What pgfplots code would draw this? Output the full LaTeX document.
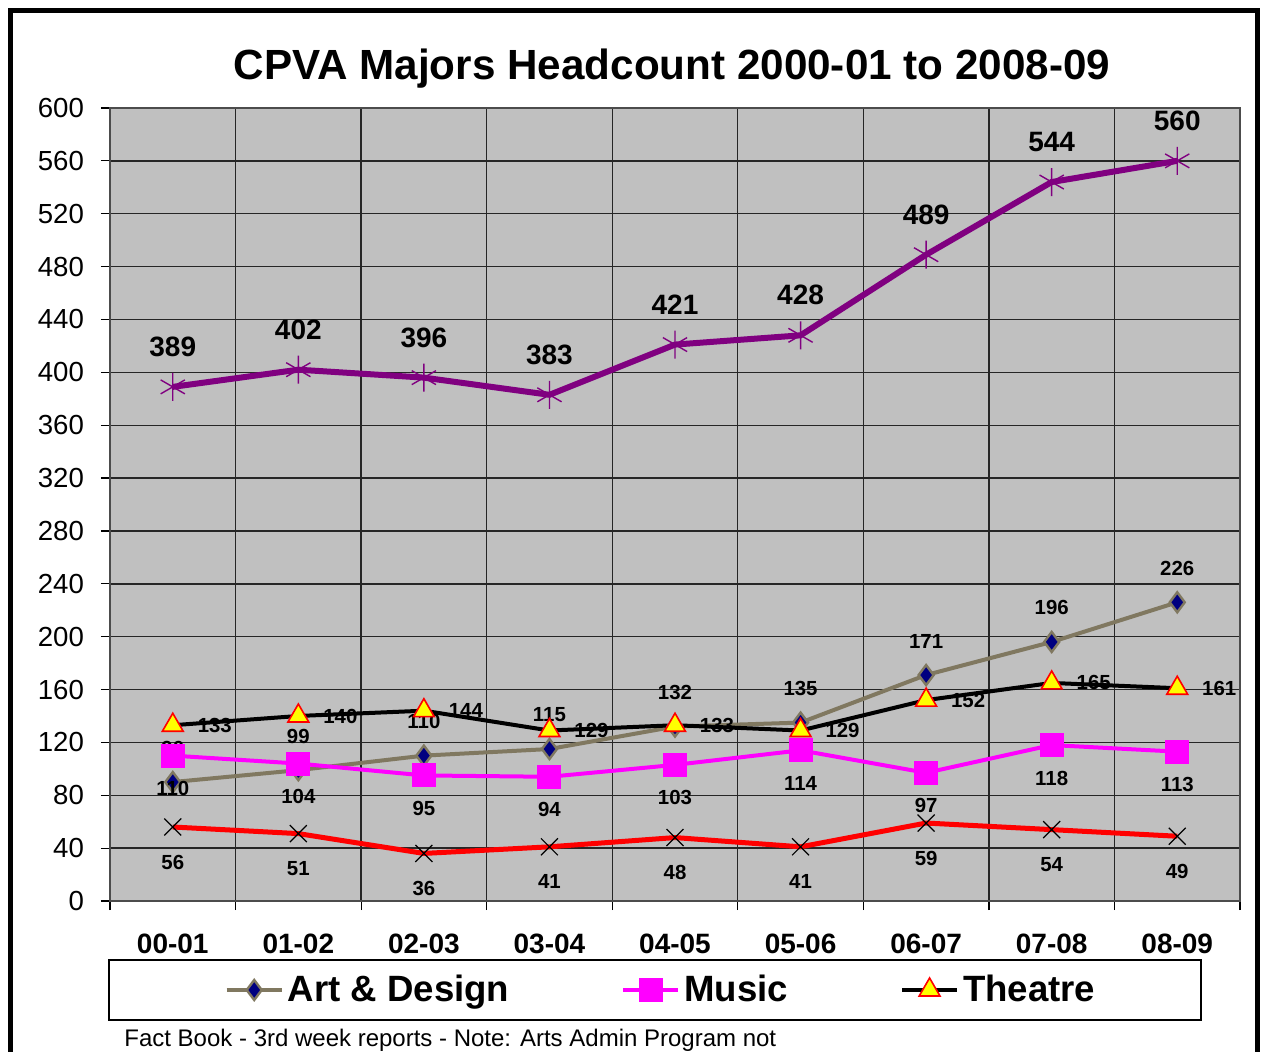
\documentclass[border=0pt]{standalone}
\usepackage{fontspec}
\setmainfont{Liberation Sans}
\usepackage{pgfplots}
\pgfplotsset{compat=1.18}
\definecolor{purp}{RGB}{128,0,128}
\definecolor{artline}{RGB}{128,120,96}
\definecolor{navyc}{RGB}{0,0,128}
\definecolor{plotbg}{RGB}{192,192,192}
\definecolor{mag}{RGB}{255,0,255}
\definecolor{yel}{RGB}{255,255,0}
\definecolor{rd}{RGB}{255,0,0}
\pgfplotsset{/pgf/number format/assume math mode=true}
\begin{document}
\begin{tikzpicture}[x=1pt,y=1pt]
\useasboundingbox (-55,-75) rectangle (575.5,450.5);
\fill[white] (-55,-75) rectangle (575.5,450.5);
\begin{axis}[
  at={(0,0)}, anchor=south west, scale only axis,
  width=565pt, height=396.5pt,
  xmin=-0.5, xmax=8.5, ymin=0, ymax=600,
  axis background/.style={fill=plotbg},
  xtick={-0.5,0.5,...,8.5}, xticklabels={},
  extra x ticks={0,1,2,3,4,5,6,7,8},
  extra x tick labels={00-01,01-02,02-03,03-04,04-05,05-06,06-07,07-08,08-09},
  extra x tick style={grid=none, tick style={draw=none},
     tick label style={font=\fontsize{14}{16}\selectfont\bfseries, yshift=-8.5pt}},
  ytick={0,40,...,600},
  yticklabel style={font=\fontsize{13.8}{16}\selectfont, xshift=-5pt},
  xmajorgrids, ymajorgrids,
  major grid style={black!85, line width=0.7pt},
  tick pos=left,
  tick align=outside, major tick length=4.5pt,
  tick style={black, line width=0.6pt},
  axis line style={black!70, line width=0.8pt},
  legend style={at={(0.4885,-0.1122)}, anchor=center, draw=none, fill=none,
    font=\fontsize{18.3}{20}\selectfont\bfseries,
    /tikz/every even column/.append style={column sep=54pt}},
  legend columns=3,
  legend image code/.code={\draw[mark repeat=2,mark phase=2,#1] plot coordinates {(0pt,0pt)(13.75pt,0pt)(27.5pt,0pt)};},
]
% Art & Design
\addplot[artline, line width=2pt, mark=diamond*, mark size=5pt,
  mark options={fill=navyc, draw=artline, line width=1.2pt},
  nodes near coords, every node near coord/.append style={anchor=center, yshift=17pt, black,
  font=\fontsize{10.2}{12}\selectfont\bfseries}]
  coordinates {(0,90)(1,99)(2,110)(3,115)(4,132)(5,135)(6,171)(7,196)(8,226)};
\addlegendentry{Art \& Design}
% Music
\addplot[mag, line width=2pt, mark=square*, mark size=5pt,
  mark options={fill=mag, draw=mag},
  nodes near coords, every node near coord/.append style={anchor=center, yshift=-16.5pt, black,
  font=\fontsize{10.2}{12}\selectfont\bfseries}]
  coordinates {(0,110)(1,104)(2,95)(3,94)(4,103)(5,114)(6,97)(7,118)(8,113)};
\addlegendentry{Music}
% Theatre
\addplot[black, line width=2pt, mark=triangle*, mark size=6pt,
  mark options={fill=yel, draw=rd, line width=0.8pt},
  nodes near coords, every node near coord/.append style={anchor=center, xshift=21pt, black,
  font=\fontsize{10.2}{12}\selectfont\bfseries}]
  coordinates {(0,133)(1,140)(2,144)(3,129)(4,133)(5,129)(6,152)(7,165)(8,161)};
\addlegendentry{Theatre}
% Arts Admin
\addplot[rd, line width=2.5pt, mark=x, mark size=6pt,
  mark options={draw=black, line width=0.6pt}, forget plot,
  nodes near coords, every node near coord/.append style={anchor=center, yshift=-17.5pt, black,
  font=\fontsize{10.2}{12}\selectfont\bfseries}]
  coordinates {(0,56)(1,51)(2,36)(3,41)(4,48)(5,41)(6,59)(7,54)(8,49)};
% Total
\addplot[purp, line width=3pt, mark=asterisk, mark size=7pt,
  mark options={draw=purp, line width=0.7pt}, forget plot,
  nodes near coords, every node near coord/.append style={anchor=center, yshift=20pt, black,
  font=\fontsize{14}{16}\selectfont\bfseries}]
  coordinates {(0,389)(1,402)(2,396)(3,383)(4,421)(5,428)(6,489)(7,544)(8,560)};
\end{axis}
\draw[black, line width=0.7pt] (-0.5,-29.5) rectangle (545.5,-59.5);
\node[anchor=base, font=\fontsize{21.1}{24}\selectfont\bfseries] at (281,410.5) {CPVA Majors Headcount 2000-01 to 2008-09};
\node[anchor=base west, inner sep=0pt, font=\fontsize{12}{14}\selectfont] at (7,-72.5) {Fact Book - 3rd week reports - Note: Arts Admin Program not};
\draw[black, line width=2.5pt] (-49.75,-100) -- (-49.75,445.25) -- (573.5,445.25) -- (573.5,-100);
\end{tikzpicture}
\end{document}
